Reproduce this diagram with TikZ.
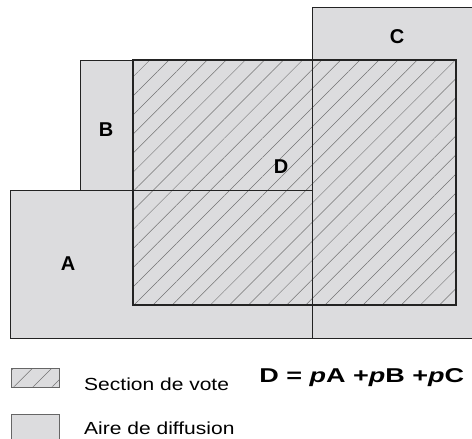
\documentclass[tikz,border=0pt]{standalone}
\usepackage{fontspec}
\setmainfont{Liberation Sans}
\usetikzlibrary{patterns.meta}
\definecolor{airefill}{RGB}{220,220,222}
\definecolor{trait}{RGB}{35,35,35}

\begin{document}
\begin{tikzpicture}[x=1pt,y=-1pt,
    aire/.style={fill=airefill},
    hachure/.style={pattern={Lines[angle=45,distance=13.5pt,line width=0.5pt]},pattern color=black!55},
    cadre/.style={draw=trait,line width=1pt},
    lettre/.style={font=\bfseries\fontsize{20}{20}\selectfont},
    legende/.style={font=\fontsize{17.5}{17.5}\selectfont,anchor=west,xscale=1.2}]

    \useasboundingbox (0,0) rectangle (472,439);

    % aires de diffusion
    \fill[aire] (10,190) rectangle (312,338);
    \fill[aire] (80,60) rectangle (312,190);
    \fill[aire] (312,7) rectangle (480,338);

    % section de vote
    \fill[hachure] (133,60) rectangle (456,305);

    % contours
    \draw[cadre] (10,190) rectangle (312,338);
    \draw[cadre] (80,60) rectangle (312,190);
    \draw[cadre] (312,7) rectangle (480,338);
    \draw[cadre,line width=1.3pt] (133,60) rectangle (456,305);

    \node[lettre] (A) at (68,264) {A};
    \node[lettre] (B) at (106,130) {B};
    \node[lettre] (C) at (397,37) {C};
    \node[lettre] (D) at (281,167) {D};

    % legende
    \fill[aire] (11,368) rectangle (59,387);
    \fill[hachure] (11,368) rectangle (59,387);
    \draw[draw=black!60,line width=0.8pt] (11,368) rectangle (59,387);
    \fill[aire] (11,414) rectangle (59,445);
    \draw[draw=black!60,line width=0.8pt] (11,414) rectangle (59,445);

    \node[legende] (vote) at (80,384) {Section de vote};
    \node[legende] (diffusion) at (80,428) {Aire de diffusion};
    \node[lettre,anchor=east,xscale=1.35] (formule) at (469,378) {D = \textit{p}A +\textit{p}B +\textit{p}C};
\end{tikzpicture}
\end{document}
